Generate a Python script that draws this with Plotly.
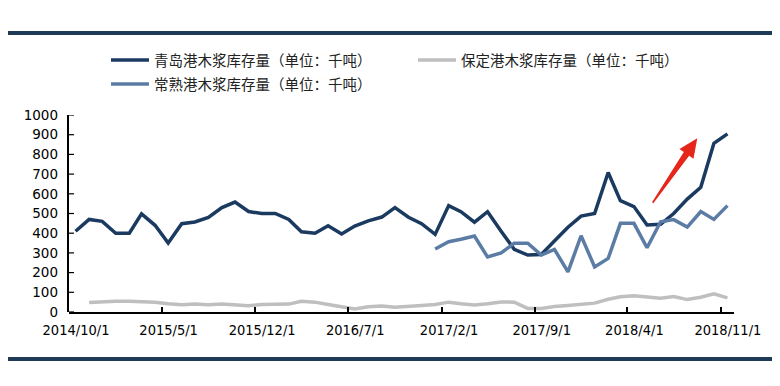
import math
import plotly.graph_objects as go
import pandas as pd

# ---------------- data ----------------
months = pd.date_range("2014-10-01", periods=50, freq="MS")

qingdao = [410, 470, 460, 400, 400, 498, 440, 350, 448, 457,
           480, 530, 558, 510, 500, 500, 470, 407, 400, 438,
           396, 436, 463, 482, 530, 481, 448, 394, 540, 509,
           456, 509, 410, 318, 289, 292, 360, 430, 487, 500,
           708, 565, 535, 442, 445, 500, 573, 633, 856, 904]

baoding = [None, 48, 52, 54, 55, 52, 50, 42, 37, 41,
           37, 40, 36, 32, 38, 40, 40, 54, 50, 38,
           28, 15, 27, 31, 24, 27, 33, 38, 50, 42,
           36, 42, 51, 50, 18, 18, 28, 33, 38, 45,
           65, 77, 83, 78, 70, 78, 63, 75, 92, 72]

changshu = [None, None, None, None, None, None, None, None, None, None,
            None, None, None, None, None, None, None, None, None, None,
            None, None, None, None, None, None, None, 320, 357, 369,
            386, 279, 300, 349, 349, 289, 318, 204, 387, 229,
            272, 450, 450, 326, 458, 469, 431, 510, 470, 540]

series_names = ["青岛港木浆库存量（单位：千吨）",
                "保定港木浆库存量（单位：千吨）",
                "常熟港木浆库存量（单位：千吨）"]

tick_dates = ["2014-10-01", "2015-05-01", "2015-12-01", "2016-07-01",
              "2017-02-01", "2017-09-01", "2018-04-01", "2018-11-01"]
tick_labels = ["2014/10/1", "2015/5/1", "2015/12/1", "2016/7/1",
               "2017/2/1", "2017/9/1", "2018/4/1", "2018/11/1"]
y_ticks = [0, 100, 200, 300, 400, 500, 600, 700, 800, 900, 1000]

# ---------------- layout geometry (window pixels, page has 8px body margin) ----
OFF = 8
W, H = 780 - OFF, 386 - OFF
PLOT_L, PLOT_R, PLOT_T, PLOT_B = 69, 734, 115, 312          # window pixels
ML = PLOT_L - OFF
MT = PLOT_T - OFF
MR = W - (PLOT_R - OFF)
MB = H - (PLOT_B - OFF)
PW, PH = W - ML - MR, H - MT - MB

C_DARK = "#1A3A60"
C_GRAY = "#BFBFBF"
C_MED = "#5B7CA4"

x_mid = months + pd.Timedelta(days=15)

fig = go.Figure()
fig.add_trace(go.Scatter(x=x_mid, y=qingdao, mode="lines", name=series_names[0],
                         line=dict(color=C_DARK, width=3.5), legend="legend"))
fig.add_trace(go.Scatter(x=x_mid, y=baoding, mode="lines", name=series_names[1],
                         line=dict(color=C_GRAY, width=3.5), legend="legend2"))
fig.add_trace(go.Scatter(x=x_mid, y=changshu, mode="lines", name=series_names[2],
                         line=dict(color=C_MED, width=3.5), legend="legend3"))


def px2paper(px, py):
    """window pixel -> paper coordinates"""
    fx, fy = px - OFF, py - OFF
    return (fx - ML) / PW, (H - MB - fy) / PH


# tapered red arrow (decoration), defined in window pixel space
tail = (652.7, 202.7)
tip = (697.3, 138.3)
dx, dy = tip[0] - tail[0], tip[1] - tail[1]
L = math.hypot(dx, dy)
ux, uy = dx / L, dy / L
nx, ny = -uy, ux
bx, by = tail[0] + ux * (L - 19), tail[1] + uy * (L - 19)
pts = [
    (tail[0] + nx * 0.8, tail[1] + ny * 0.8),
    (bx + nx * 3.2, by + ny * 3.2),
    (bx + nx * 8.5, by + ny * 8.5),
    tip,
    (bx - nx * 8.5, by - ny * 8.5),
    (bx - nx * 3.2, by - ny * 3.2),
    (tail[0] - nx * 0.8, tail[1] - ny * 0.8),
]
ppts = [px2paper(*p) for p in pts]
path = "M " + " L ".join(f"{a:.5f},{b:.5f}" for a, b in ppts) + " Z"

shapes = [
    dict(type="path", xref="paper", yref="paper", path=path,
         fillcolor="#E5261A", line=dict(width=0)),
    # y axis line
    dict(type="line", xref="paper", yref="paper", x0=-1 / PW, x1=-1 / PW,
         y0=0, y1=1, line=dict(color="black", width=2), layer="above"),
]
# inside y ticks
for v in y_ticks:
    shapes.append(dict(type="line", xref="paper", yref="y", x0=-1 / PW, x1=5 / PW,
                       y0=v, y1=v, line=dict(color="black", width=1.2),
                       layer="above"))
# top and bottom dark bands
for py in (33, 359):
    x0, yy = px2paper(0, py)
    x1, _ = px2paper(780, py)
    shapes.append(dict(type="line", xref="paper", yref="paper",
                       x0=x0, x1=x1, y0=yy, y1=yy,
                       line=dict(color="#1E3A58", width=4)))

legend_font = dict(family="Noto Sans CJK SC", size=14.5, color="#222222")


def legend_at(px, py):
    x, y = px2paper(px, py)
    return dict(x=x, y=y, xanchor="left", yanchor="middle",
                xref="paper", yref="paper", font=legend_font,
                bgcolor="rgba(0,0,0,0)", borderwidth=0, itemwidth=38,
                orientation="h")


fig.update_layout(
    width=W, height=H,
    margin=dict(l=ML, r=MR, t=MT, b=MB, pad=0),
    paper_bgcolor="white", plot_bgcolor="rgba(0,0,0,0)",
    showlegend=True,
    legend=legend_at(106, 60),
    legend2=legend_at(413, 60),
    legend3=legend_at(106, 84),
    shapes=shapes,
    xaxis=dict(
        type="date",
        range=["2014-10-01", "2018-12-01"],
        tickvals=tick_dates, ticktext=tick_labels,
        ticks="inside", ticklen=5, tickcolor="black", tickwidth=1.5,
        showline=True, linecolor="black", linewidth=1.5,
        showgrid=False, zeroline=False,
        tickfont=dict(family="DejaVu Sans Condensed", size=14.5, color="black"),
        ticklabelshift=7, ticklabelstandoff=4,
    ),
    yaxis=dict(
        range=[0, 1000], tickvals=y_ticks,
        ticks="", showline=False,
        showgrid=False, zeroline=False,
        tickfont=dict(family="DejaVu Sans", size=13.5, color="black"),
        ticklabelstandoff=10,
    ),
)

fig.write_html("out.html")
